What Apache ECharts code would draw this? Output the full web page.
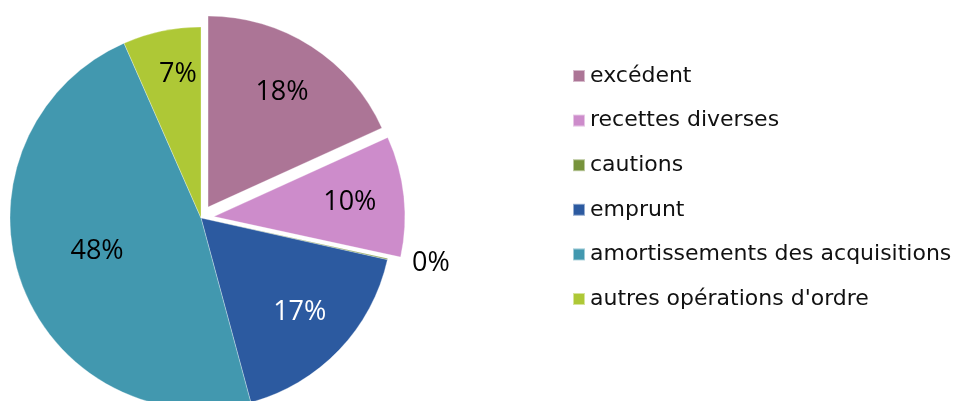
<!DOCTYPE html>
<html>
<head>
<meta charset="utf-8">
<style>
  html, body { margin: 0; padding: 0; background: #fff; }
  #chart { width: 959px; height: 401px; }
</style>
<script src="https://cdn.jsdelivr.net/npm/echarts@6/dist/echarts.min.js"></script>
</head>
<body>
<div id="chart"></div>
<script>
// parts of the budget, in percent, clockwise from 12 o'clock
const categories = ['excédent', 'recettes diverses', 'cautions', 'emprunt', 'amortissements des acquisitions', 'autres opérations d\'ordre'];
const values = [18.2, 10.2, 0.1, 17.3, 47.6, 6.6];
const colors = ['#ac7596', '#cd8ccb', '#77933c', '#2c5aa0', '#4298af', '#aec836'];
const exploded = [true, true, false, false, false, false];

const chart = echarts.init(document.getElementById('chart'));

const center = [201, 218];
const R = 191;

const pieData = categories.map((name, i) => ({
  name,
  value: values[i],
  selected: exploded[i],
  itemStyle: { color: colors[i] },
}));

// second, transparent pie only carries the labels (places them at ~70% of the radius)
const labelData = categories.map((name, i) => {
  const item = {
    name,
    value: values[i],
    selected: exploded[i],
    itemStyle: { color: 'rgba(0,0,0,0)' },
  };
  if (name === 'emprunt') item.label = { color: '#fff' };
  if (name === 'cautions') item.label = { position: 'outside' };
  if (name === 'amortissements des acquisitions') item.label = { offset: [25, -12] };
  if (name === 'autres opérations d\'ordre') item.label = { offset: [5, -10] };
  return item;
});

chart.setOption({
  animation: false,
  legend: {
    orient: 'vertical',
    left: 567,
    top: 60,
    itemWidth: 12,
    itemHeight: 12,
    itemGap: 22.6,
    icon: 'rect',
    selectedMode: false,
    data: categories,
    textStyle: {
      fontFamily: 'DejaVu Sans',
      fontSize: 22,
      lineHeight: 22,
      color: '#111',
    },
  },
  series: [
    {
      type: 'pie',
      z: 2,
      center,
      radius: [0, R],
      startAngle: 90,
      selectedMode: 'multiple',
      selectedOffset: 13,
      avoidLabelOverlap: false,
      silent: true,
      label: { show: false },
      labelLine: { show: false },
      itemStyle: { borderColor: 'rgba(255,255,255,0.5)', borderWidth: 0.6 },
      emphasis: { disabled: true },
      data: pieData,
    },
    {
      type: 'pie',
      z: 3,
      center,
      radius: [R * 0.4, R],
      startAngle: 90,
      selectedMode: 'multiple',
      selectedOffset: 13,
      avoidLabelOverlap: false,
      silent: true,
      label: {
        show: true,
        position: 'inside',
        fontFamily: 'Open Sans',
        fontSize: 27,
        color: '#000',
        formatter: (p) => Math.round(p.value) + '%',
      },
      labelLine: { show: false, length: 20, length2: 0 },
      emphasis: { disabled: true },
      data: labelData,
    },
  ],
});
</script>
</body>
</html>
